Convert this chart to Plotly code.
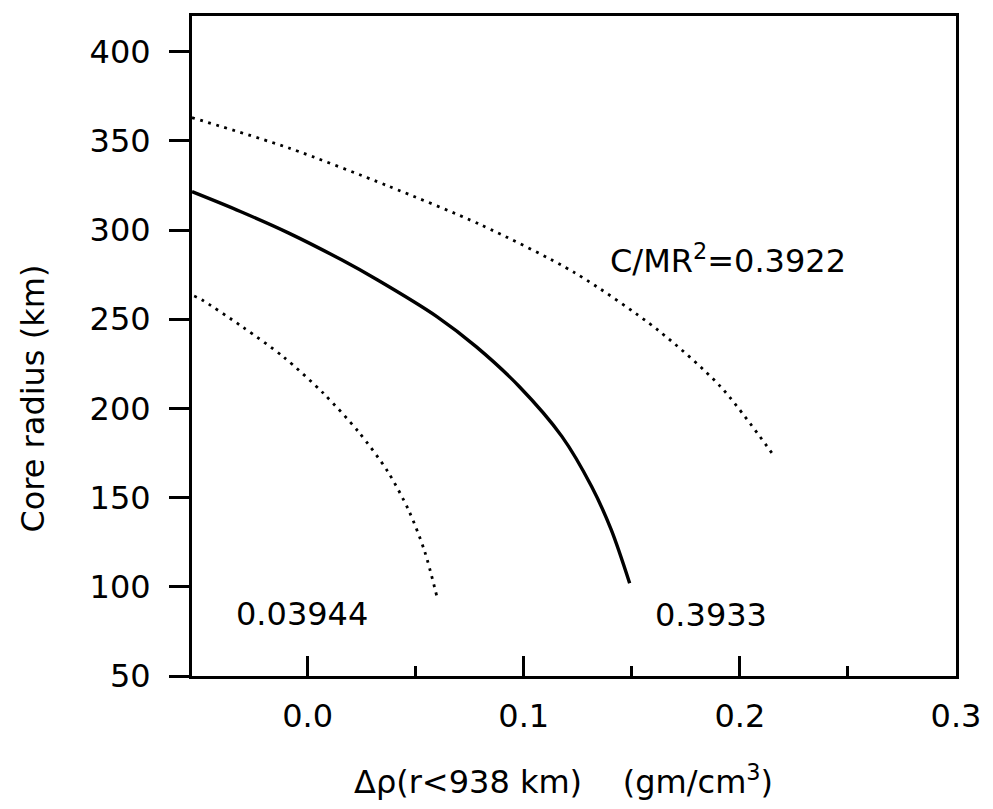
import plotly.graph_objects as go

# Solid curve (C/MR^2 = 0.3933)
solid_x = [-0.0535, -0.0311, -0.0087, 0.0157, 0.0324, 0.0598, 0.0781, 0.0979, 0.1177, 0.1314, 0.1405, 0.149]
solid_y = [321.5, 310.4, 298.3, 283.3, 272.0, 251.5, 234.5, 212.3, 184.2, 156.2, 131.9, 102.0]

# Upper dotted curve (C/MR^2 = 0.3922)
upper_x = [-0.0535, -0.0087, 0.037, 0.080, 0.1237, 0.162, 0.191, 0.216]
upper_y = [363.0, 346.0, 324.8, 303.0, 276.0, 244.0, 212.3, 173.0]

# Lower dotted curve (0.03944)
lower_x = [-0.0525, -0.049, -0.030, -0.0111, 0.0073, 0.0236, 0.0371, 0.0469, 0.0542, 0.0600]
lower_y = [263.0, 260.9, 245.6, 228.8, 208.5, 186.8, 164.6, 142.5, 119.7, 93.6]

labels = ["0.03944", "0.3933", "C/MR<sup>2</sup>=0.3922"]
label_x = [-0.0026, 0.1868, 0.1943]
label_y = [84.8, 84.2, 284.0]

x_ticks = [0.0, 0.1, 0.2, 0.3]
y_ticks = [50, 100, 150, 200, 250, 300, 350, 400]

FONT = "DejaVu Sans"

fig = go.Figure()
fig.add_trace(go.Scatter(x=upper_x, y=upper_y, mode="lines",
                         line=dict(color="black", width=2.8, dash="2.8px,5.6px", shape="spline", smoothing=0.8),
                         showlegend=False, hoverinfo="skip"))
fig.add_trace(go.Scatter(x=lower_x, y=lower_y, mode="lines",
                         line=dict(color="black", width=2.8, dash="2.8px,5.6px", shape="spline", smoothing=0.8),
                         showlegend=False, hoverinfo="skip"))
fig.add_trace(go.Scatter(x=solid_x, y=solid_y, mode="lines",
                         line=dict(color="black", width=3.4, shape="spline", smoothing=0.9),
                         showlegend=False, hoverinfo="skip"))

for t, lx, ly in zip(labels, label_x, label_y):
    fig.add_annotation(x=lx, y=ly, xref="x", yref="y", text=t, showarrow=False,
                       xanchor="center", yanchor="middle",
                       font=dict(family=FONT, size=32, color="black"))

# Axis titles
fig.add_annotation(x=-0.2075, y=0.421, xref="paper", yref="paper", text="Core radius (km)",
                   textangle=-90, showarrow=False, xanchor="center", yanchor="middle",
                   font=dict(family=FONT, size=32, color="black"))
fig.add_annotation(x=0.2088, y=-0.158, xref="paper", yref="paper",
                   text="\u0394\u03c1(r<938 km)\u00a0\u00a0\u00a0\u00a0(gm/cm<sup>3</sup>)",
                   showarrow=False, xanchor="left", yanchor="middle",
                   font=dict(family=FONT, size=32, color="black"))

fig.update_xaxes(range=[-0.0535, 0.3], tickvals=x_ticks, ticktext=[f"{v:.1f}" for v in x_ticks],
                 ticks="inside", ticklen=20, tickwidth=2.5, tickcolor="black",
                 minor=dict(ticks="inside", ticklen=10, tickwidth=2.5, tickcolor="black",
                            tickvals=[0.05, 0.15, 0.25]),
                 showline=True, linewidth=3, linecolor="black", mirror=True,
                 showgrid=False, zeroline=False,
                 tickfont=dict(family=FONT, size=32, color="black"),
                 ticklabelstandoff=10)
fig.update_yaxes(range=[50, 420], tickvals=y_ticks,
                 ticks="outside", ticklen=20, tickwidth=2.5, tickcolor="black",
                 showline=True, linewidth=3, linecolor="black", mirror=True,
                 showgrid=False, zeroline=False,
                 tickfont=dict(family=FONT, size=32, color="black"),
                 ticklabelstandoff=12)

fig.update_layout(width=993, height=809, margin=dict(l=192, r=30, t=16, b=133),
                  plot_bgcolor="white", paper_bgcolor="white", showlegend=False)

fig.write_html("out.html")
